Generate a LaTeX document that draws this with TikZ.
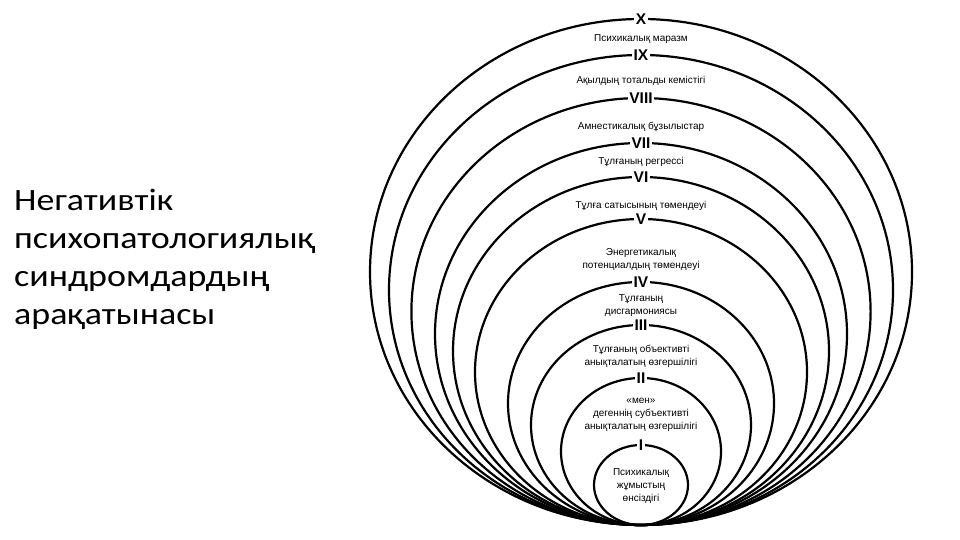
\documentclass[tikz,border=0pt]{standalone}
\usepackage{fontspec}
\setmainfont{Liberation Sans}
\newfontfamily\titlefont{Carlito}
\usepackage{tikz}

\tikzset{
	ring/.style={black, line width=2.2pt},
	numeral/.style={fill=white, inner sep=1.5pt, font=\fontsize{15.5}{17}\selectfont\bfseries},
	lbl/.style={align=center, inner sep=0pt, font=\fontsize{10}{13}\selectfont}
}

\begin{document}
\begin{tikzpicture}[x=1pt, y=1pt]
			\def\cx{641}
			\def\by{15}
			\useasboundingbox (0,0) rectangle (960,540);

			% --- Title ---
			\node[anchor=north west, align=left, inner sep=0pt, xscale=1.16, font=\titlefont\fontsize{31}{38}\selectfont] (title) at (14, 351)
				{Негативтік\\психопатологиялық\\синдромдардың\\арақатынасы};

			% --- Nested ellipses (all touch at the bottom) ---
			\draw[ring] (\cx, \by+253) ellipse [x radius=271, y radius=253];
			\draw[ring] (\cx, \by+235) ellipse [x radius=252, y radius=235];
			\draw[ring] (\cx, \by+213.5) ellipse [x radius=229.6, y radius=213.5];
			\draw[ring] (\cx, \by+191) ellipse [x radius=206, y radius=191];
			\draw[ring] (\cx, \by+174) ellipse [x radius=188, y radius=174];
			\draw[ring] (\cx, \by+153) ellipse [x radius=166, y radius=153];
			\draw[ring] (\cx, \by+121.5) ellipse [x radius=133, y radius=121.5];
			\draw[ring] (\cx, \by+100) ellipse [x radius=110, y radius=100];
			\draw[ring] (\cx, \by+73.5) ellipse [x radius=80, y radius=73.5];
			\draw[ring] (\cx, \by+40) ellipse [x radius=47, y radius=40];

			% Numerals on the ellipse tops
			\node[numeral] (nX) at (\cx, \by+506) {X};
			\node[numeral] (nIX) at (\cx, \by+470) {IX};
			\node[numeral] (nVIII) at (\cx, \by+427) {VIII};
			\node[numeral] (nVII) at (\cx, \by+382) {VII};
			\node[numeral] (nVI) at (\cx, \by+348) {VI};
			\node[numeral] (nV) at (\cx, \by+306) {V};
			\node[numeral] (nIV) at (\cx, \by+243) {IV};
			\node[numeral] (nIII) at (\cx, \by+200) {III};
			\node[numeral] (nII) at (\cx, \by+147) {II};
			\node[numeral] (nI) at (\cx, \by+80) {I};

			% Labels between the rings
			\node[lbl] (lblX) at (\cx, 501) {Психикалық маразм};
			\node[lbl] (lblIX) at (\cx, 459) {Ақылдың тотальды кемістігі};
			\node[lbl] (lblVIII) at (\cx, 413) {Амнестикалық бұзылыстар};
			\node[lbl] (lblVII) at (\cx, 378) {Тұлғаның регрессі};
			\node[lbl] (lblVI) at (\cx, 334) {Тұлға сатысының төмендеуі};
			\node[lbl] (lblV) at (\cx, 280) {Энергетикалық\\потенциалдың төмендеуі};
			\node[lbl] (lblIV) at (\cx, 234) {Тұлғаның\\дисгармониясы};
			\node[lbl] (lblIII) at (\cx, 184) {Тұлғаның объективті\\анықталатың өзгершілігі};
			\node[lbl] (lblII) at (\cx, 125) {«мен»\\дегеннің субъективті\\анықталатың өзгершілігі};
			\node[lbl] (lblI) at (\cx, 54) {Психикалық\\жұмыстың\\өнсіздігі};
		\end{tikzpicture}
\end{document}
